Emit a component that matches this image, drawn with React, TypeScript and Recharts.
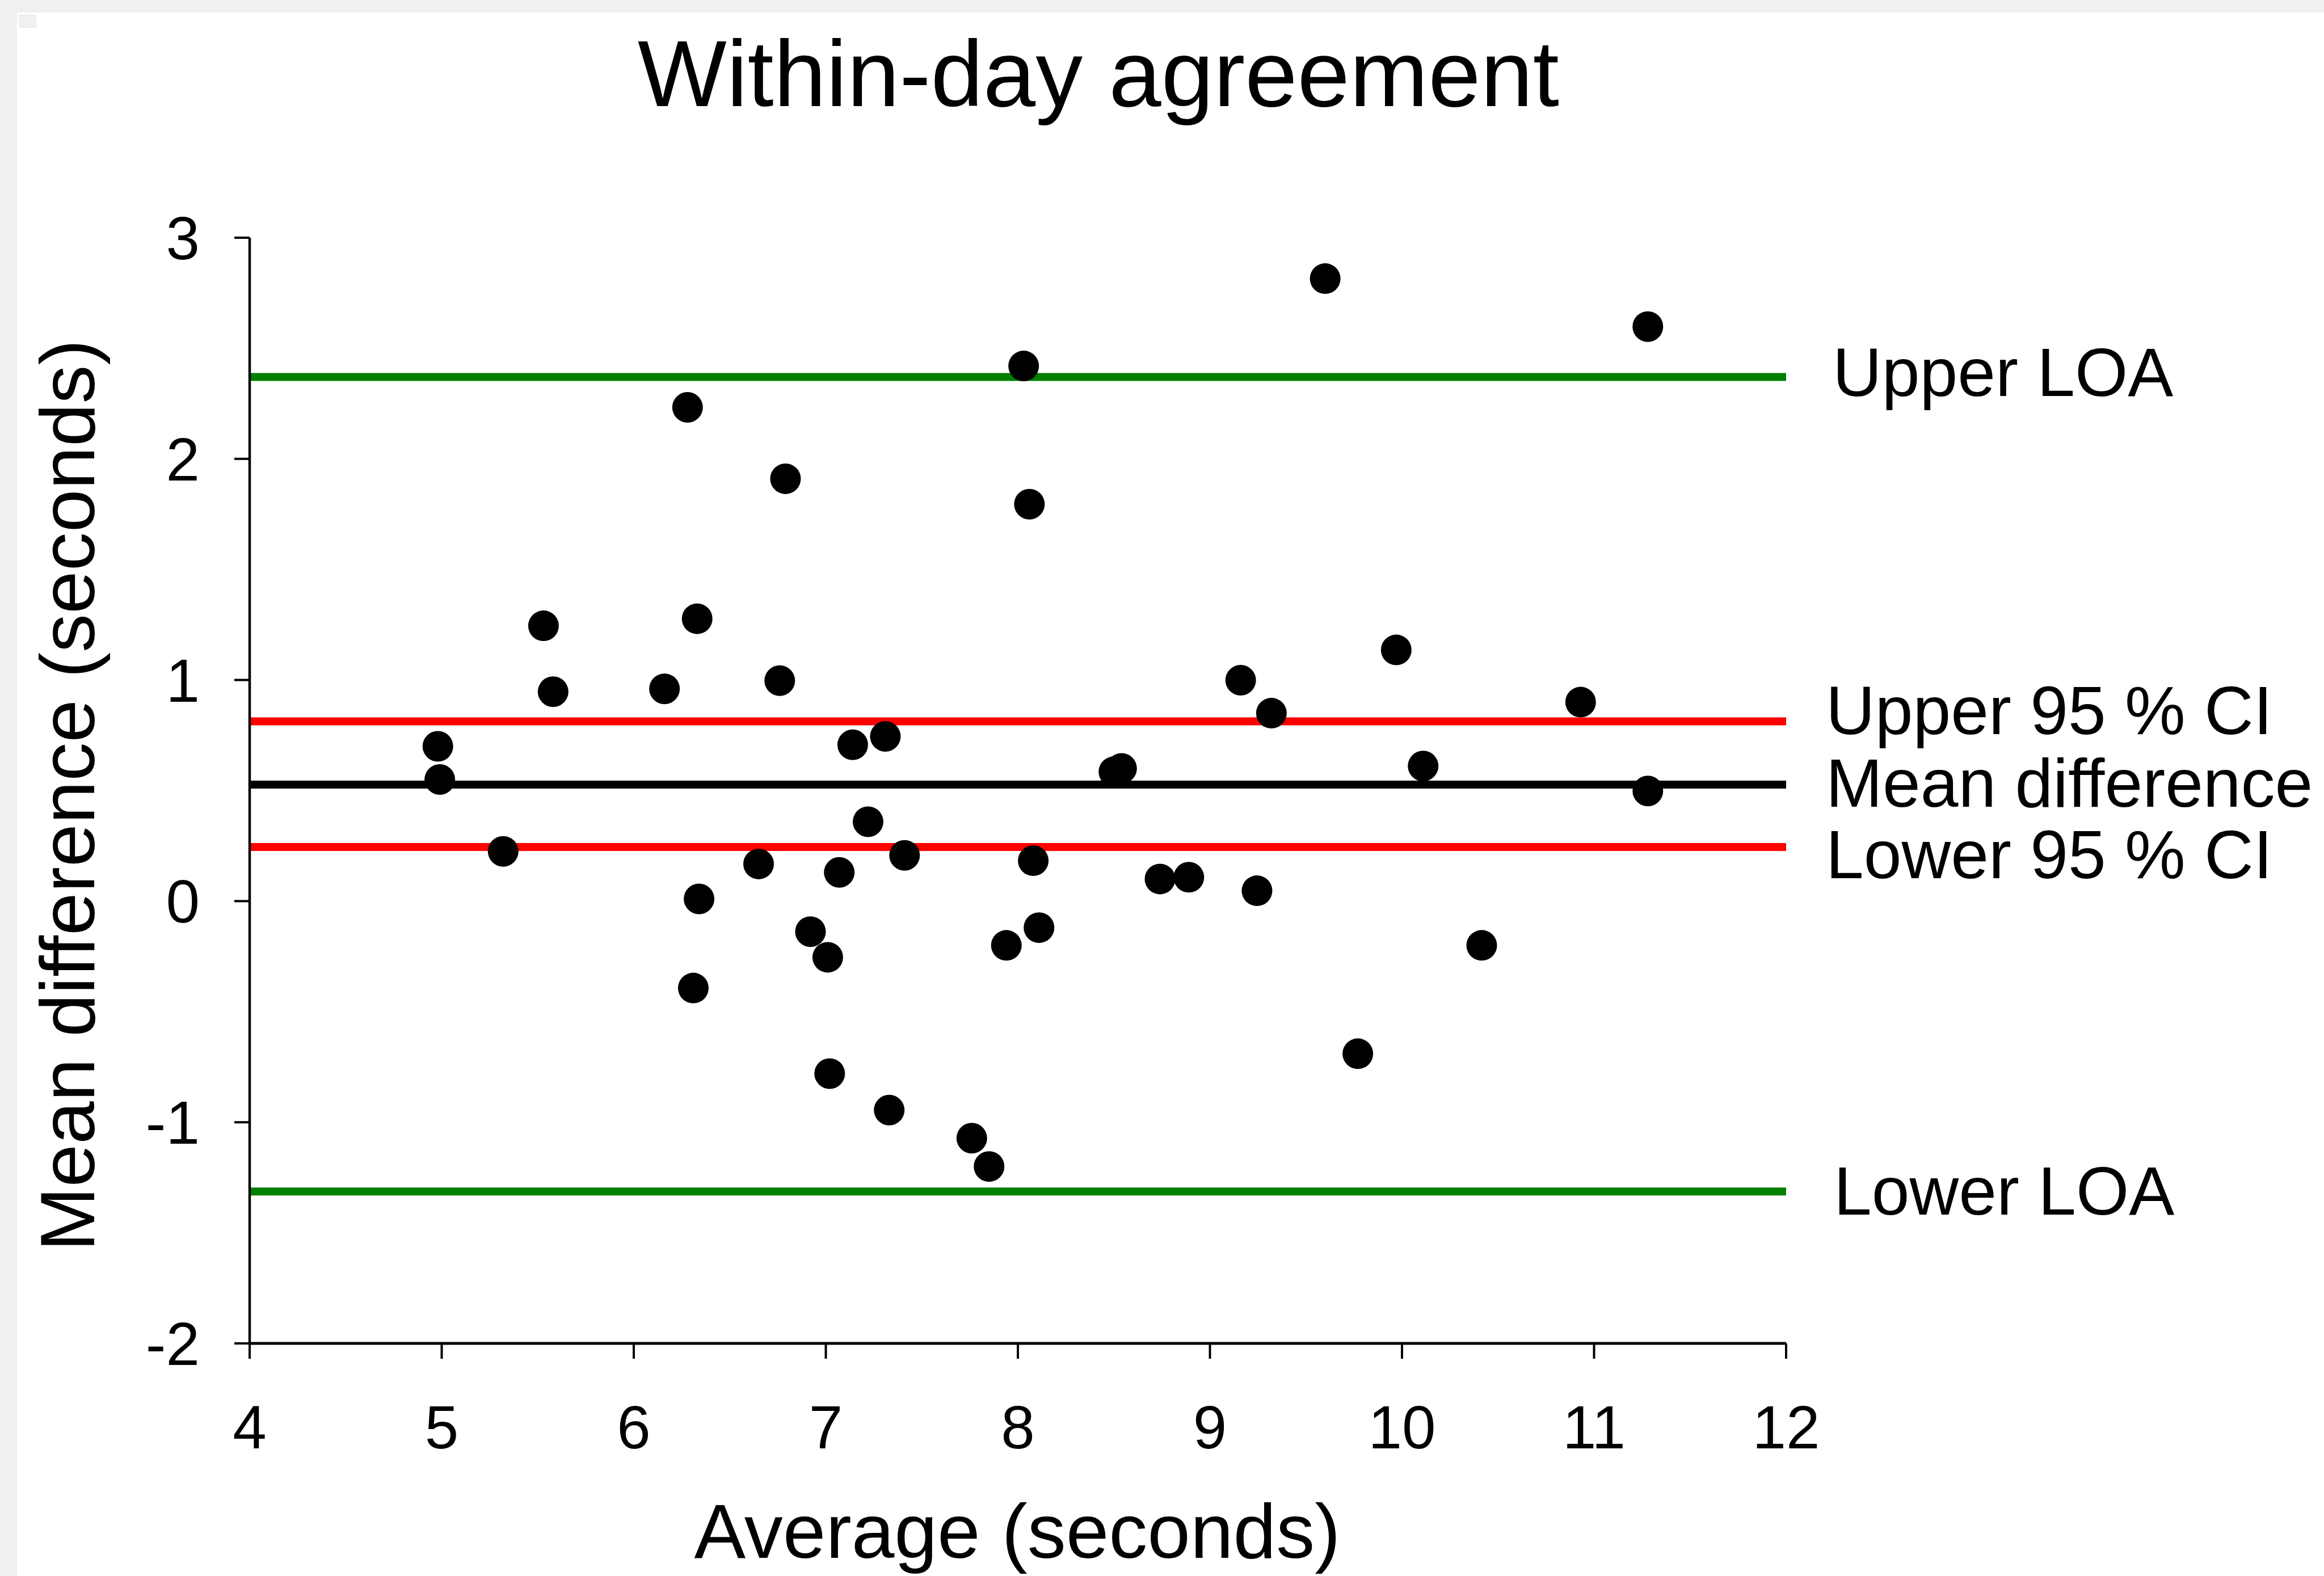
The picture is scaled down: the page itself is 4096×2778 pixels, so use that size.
import { ReferenceLine, Scatter, ScatterChart, XAxis, YAxis } from 'recharts';

const FONT = '"Liberation Sans", Arial, sans-serif';

// average of the two trials (seconds)
const averageSeconds = [
  4.98, 4.99, 5.32, 5.53, 5.58, 6.16, 6.28, 6.33, 6.34, 6.31, 6.65,
  6.76, 6.79, 6.92, 7.01, 7.07, 7.02, 7.14, 7.22, 7.31, 7.33, 7.41,
  7.76, 7.85, 7.94, 8.03, 8.06, 8.08, 8.11, 8.5, 8.54, 8.74, 8.89,
  9.16, 9.245, 9.32, 9.6, 9.77, 9.97, 10.11, 10.415, 10.93, 11.28, 11.28,
];

// difference between the two trials (seconds)
const differenceSeconds = [
  0.7, 0.55, 0.225, 1.245, 0.947, 0.96, 2.233, 1.277, 0.01, -0.393, 0.168,
  0.997, 1.91, -0.138, -0.254, 0.13, -0.78, 0.707, 0.359, 0.745, -0.945, 0.207,
  -1.072, -1.2, -0.2, 2.42, 1.795, 0.183, -0.12, 0.585, 0.6, 0.1, 0.108,
  0.999, 0.047, 0.85, 2.815, -0.69, 1.136, 0.611, -0.2, 0.9, 0.498, 2.598,
];

const xTicks = [4, 5, 6, 7, 8, 9, 10, 11, 12];
const yTicks = [-2, -1, 0, 1, 2, 3];

// Bland-Altman lines
const upperLoa = 2.37;
const upperCi = 0.813;
const meanDifference = 0.527;
const lowerCi = 0.245;
const lowerLoa = -1.313;

const points = averageSeconds.map((x, i) => ({ x, y: differenceSeconds[i] }));

function sideLabel(text: string, dx: number, dy: number) {
  return (props: any) => {
    const vb = props.viewBox || {};
    return (
      <text x={vb.x + vb.width + dx} y={vb.y + dy} fontSize={120} fontFamily={FONT} fill="#000">
        {text}
      </text>
    );
  };
}

const dot = (props: any) => <circle cx={props.cx} cy={props.cy} r={27} fill="#000" />;

export default function App() {
  return (
    <div style={{ position: 'absolute', left: 0, top: 0, width: 4096, height: 2778, background: '#f0f0f0', overflow: 'hidden' }}>
      <div style={{ position: 'absolute', left: 30, top: 22, right: 0, bottom: 0, background: '#fff' }} />
      <div style={{ position: 'absolute', left: 34, top: 26, width: 28, height: 21, background: '#f0f0f0', border: '1px solid #e6e6e6' }} />
      <div style={{ position: 'absolute', left: 0, top: 0 }}>
        <ScatterChart width={4096} height={2778} margin={{ top: 419, right: 948, bottom: 0, left: 0 }}>
          <XAxis
            type="number"
            dataKey="x"
            domain={[4, 12]}
            ticks={xTicks}
            interval={0}
            height={410}
            tickSize={27}
            tickMargin={82}
            axisLine={{ stroke: '#000', strokeWidth: 5 }}
            tickLine={{ stroke: '#000', strokeWidth: 4 }}
            tick={{ fontSize: 107, fill: '#000', fontFamily: FONT }}
          />
          <YAxis
            type="number"
            dataKey="y"
            domain={[-2, 3]}
            ticks={yTicks}
            interval={0}
            width={440}
            tickSize={27}
            tickMargin={61}
            axisLine={{ stroke: '#000', strokeWidth: 4.5 }}
            tickLine={{ stroke: '#000', strokeWidth: 4 }}
            tick={{ fontSize: 107, fill: '#000', fontFamily: FONT }}
          />
          <ReferenceLine y={upperLoa} stroke="#008000" strokeWidth={14} label={sideLabel('Upper LOA', 82, 33)} />
          <ReferenceLine y={upperCi} stroke="#ff0000" strokeWidth={14} label={sideLabel('Upper 95 % CI', 70, 23)} />
          <ReferenceLine y={meanDifference} stroke="#000" strokeWidth={14} label={sideLabel('Mean difference', 70, 39)} />
          <ReferenceLine y={lowerCi} stroke="#ff0000" strokeWidth={14} label={sideLabel('Lower 95 % CI', 70, 55)} />
          <ReferenceLine y={lowerLoa} stroke="#008000" strokeWidth={14} label={sideLabel('Lower LOA', 84, 41)} />
          <Scatter data={points} shape={dot} isAnimationActive={false} />
        </ScatterChart>
      </div>
      <svg width={4096} height={2778} style={{ position: 'absolute', left: 0, top: 0, pointerEvents: 'none' }}>
        <text x={1936} y={187} textAnchor="middle" fontSize={166} fontFamily={FONT} fill="#000">
          Within-day agreement
        </text>
        <text x={166} y={1402} transform="rotate(-90 166 1402)" textAnchor="middle" fontSize={136} fontFamily={FONT} fill="#000">
          Mean difference (seconds)
        </text>
        <text x={1793} y={2746} textAnchor="middle" fontSize={136} fontFamily={FONT} fill="#000">
          Average (seconds)
        </text>
      </svg>
    </div>
  );
}
